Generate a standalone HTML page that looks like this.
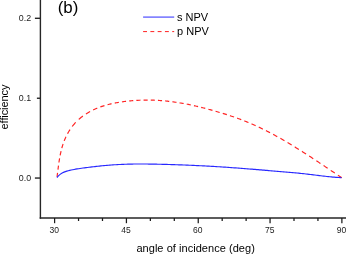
<!DOCTYPE html>
<html><head><meta charset="utf-8"><title>chart</title>
<style>
html,body{margin:0;padding:0;background:#fff;}
body{width:346px;height:255px;overflow:hidden;position:relative;font-family:"Liberation Sans",sans-serif;}
svg{position:absolute;left:0;top:0;display:block;will-change:transform;}
text{font-family:"Liberation Sans",sans-serif;fill:#000;}
.t{font-size:9.6px;fill:#1c1c1c;}
.l{font-size:11px;}
.ax line{stroke:#262626;stroke-width:1.4;}
.ax line.k{stroke:#1a1a1a;stroke-width:1.25;}
</style></head>
<body>
<svg width="346" height="255" viewBox="0 0 346 255">
<rect width="346" height="255" fill="#fff"/>
<g class="ax">
<line x1="40.4" y1="0" x2="40.4" y2="218.7"/>
<line x1="39.7" y1="218.0" x2="346" y2="218.0"/>
<line class="k" x1="54.60" y1="218.0" x2="54.60" y2="223.2"/><line class="k" x1="78.54" y1="218.0" x2="78.54" y2="221.0"/><line class="k" x1="102.48" y1="218.0" x2="102.48" y2="221.0"/><line class="k" x1="126.42" y1="218.0" x2="126.42" y2="223.2"/><line class="k" x1="150.36" y1="218.0" x2="150.36" y2="221.0"/><line class="k" x1="174.30" y1="218.0" x2="174.30" y2="221.0"/><line class="k" x1="198.24" y1="218.0" x2="198.24" y2="223.2"/><line class="k" x1="222.18" y1="218.0" x2="222.18" y2="221.0"/><line class="k" x1="246.12" y1="218.0" x2="246.12" y2="221.0"/><line class="k" x1="270.06" y1="218.0" x2="270.06" y2="223.2"/><line class="k" x1="294.00" y1="218.0" x2="294.00" y2="221.0"/><line class="k" x1="317.94" y1="218.0" x2="317.94" y2="221.0"/><line class="k" x1="341.88" y1="218.0" x2="341.88" y2="223.2"/><line x1="34.9" y1="178.05" x2="40.4" y2="178.05"/><line x1="36.9" y1="98.25" x2="40.4" y2="98.25"/><line x1="34.9" y1="18.30" x2="40.4" y2="18.30"/>
</g>
<text transform="translate(54.20,233.4) scale(0.89,1)" text-anchor="middle" class="t">30</text><text transform="translate(126.02,233.4) scale(0.89,1)" text-anchor="middle" class="t">45</text><text transform="translate(197.84,233.4) scale(0.89,1)" text-anchor="middle" class="t">60</text><text transform="translate(269.66,233.4) scale(0.89,1)" text-anchor="middle" class="t">75</text><text transform="translate(341.48,233.4) scale(0.89,1)" text-anchor="middle" class="t">90</text><text transform="translate(31.2,180.90) scale(0.925,1)" text-anchor="end" class="t">0.0</text><text transform="translate(31.2,101.00) scale(0.925,1)" text-anchor="end" class="t">0.1</text><text transform="translate(31.2,21.10) scale(0.925,1)" text-anchor="end" class="t">0.2</text>
<text transform="translate(57.7,12.7) scale(0.97,1)" style="font-size:17.4px">(b)</text>
<line x1="143.1" y1="17.1" x2="174.2" y2="17.1" stroke="#6060ff" stroke-width="1.35"/>
<line x1="143.1" y1="31.6" x2="174.2" y2="31.6" stroke="#ff2020" stroke-width="1" stroke-dasharray="3.9 3.38"/>
<text x="176.9" y="21.1" class="l">s NPV</text>
<text x="177.1" y="35.2" class="l">p NPV</text>
<path d="M57.02,176.90 L57.13,176.08 L57.24,175.26 L57.35,174.44 L57.45,173.62 L57.56,172.80 M57.95,169.70 L58.06,168.88 L58.17,168.06 L58.27,167.24 L58.38,166.42 L58.49,165.60 M58.93,162.50 L59.06,161.68 L59.18,160.86 L59.31,160.04 L59.45,159.22 L59.59,158.40 M60.16,155.30 L60.32,154.48 L60.49,153.66 L60.67,152.84 L60.85,152.02 L61.04,151.20 M61.83,148.10 L62.06,147.28 L62.30,146.46 L62.55,145.64 L62.81,144.82 L63.08,144.00 M64.20,140.90 L64.53,140.08 L64.87,139.26 L65.22,138.44 L65.59,137.62 L65.97,136.80 M67.55,133.70 L68.01,132.88 L68.49,132.06 L68.98,131.24 L69.49,130.42 L70.02,129.60 M72.21,126.50 L72.85,125.68 L73.52,124.86 L74.21,124.04 L74.93,123.22 L75.69,122.40 M78.76,119.41 L79.58,118.69 L80.40,118.00 L81.22,117.33 L82.04,116.70 L82.86,116.08 M85.96,113.95 L86.78,113.43 L87.60,112.93 L88.42,112.45 L89.24,111.98 L90.06,111.52 M93.16,109.94 L93.98,109.55 L94.80,109.18 L95.62,108.81 L96.44,108.46 L97.26,108.12 M100.36,106.93 L101.18,106.64 L102.00,106.36 L102.82,106.09 L103.64,105.83 L104.46,105.58 M107.56,104.70 L108.38,104.49 L109.20,104.29 L110.02,104.09 L110.84,103.90 L111.66,103.71 M114.76,103.07 L115.58,102.91 L116.40,102.76 L117.22,102.62 L118.04,102.47 L118.86,102.34 M121.96,101.86 L122.78,101.74 L123.60,101.63 L124.42,101.52 L125.24,101.41 L126.06,101.31 M129.16,100.97 L129.98,100.88 L130.80,100.81 L131.62,100.73 L132.44,100.66 L133.26,100.60 M136.36,100.38 L137.18,100.33 L138.00,100.29 L138.82,100.25 L139.64,100.22 L140.46,100.18 M143.56,100.10 L144.38,100.09 L145.20,100.08 L146.02,100.07 L146.84,100.07 L147.66,100.07 M150.76,100.11 L151.58,100.13 L152.40,100.15 L153.22,100.18 L154.04,100.21 L154.86,100.24 M157.96,100.40 L158.78,100.45 L159.60,100.50 L160.42,100.56 L161.24,100.62 L162.06,100.68 M165.16,100.95 L165.98,101.03 L166.80,101.12 L167.62,101.20 L168.44,101.29 L169.26,101.38 M172.36,101.77 L173.18,101.87 L174.00,101.99 L174.82,102.10 L175.64,102.22 L176.46,102.34 M179.56,102.83 L180.38,102.96 L181.20,103.10 L182.02,103.24 L182.84,103.39 L183.66,103.54 M186.76,104.12 L187.58,104.29 L188.40,104.45 L189.22,104.62 L190.04,104.79 L190.86,104.96 M193.96,105.64 L194.78,105.83 L195.60,106.01 L196.42,106.20 L197.24,106.40 L198.06,106.59 M201.16,107.35 L201.98,107.56 L202.80,107.76 L203.62,107.97 L204.44,108.19 L205.26,108.40 M208.36,109.23 L209.18,109.45 L210.00,109.68 L210.82,109.91 L211.64,110.13 L212.46,110.37 M215.56,111.25 L216.38,111.49 L217.20,111.73 L218.02,111.97 L218.84,112.22 L219.66,112.46 M222.76,113.40 L223.58,113.65 L224.40,113.90 L225.22,114.16 L226.04,114.42 L226.86,114.67 M229.96,115.68 L230.78,115.95 L231.60,116.22 L232.42,116.50 L233.24,116.77 L234.06,117.05 M237.16,118.15 L237.98,118.44 L238.80,118.74 L239.62,119.04 L240.44,119.35 L241.26,119.66 M244.36,120.87 L245.18,121.20 L246.00,121.53 L246.82,121.86 L247.64,122.20 L248.46,122.54 M251.56,123.86 L252.38,124.22 L253.20,124.58 L254.02,124.95 L254.84,125.32 L255.66,125.69 M258.76,127.12 L259.58,127.51 L260.40,127.90 L261.22,128.30 L262.04,128.69 L262.86,129.10 M265.96,130.64 L266.78,131.05 L267.60,131.47 L268.42,131.89 L269.24,132.32 L270.06,132.75 M273.16,134.39 L273.98,134.83 L274.80,135.27 L275.62,135.72 L276.44,136.17 L277.26,136.62 M280.36,138.36 L281.18,138.82 L282.00,139.29 L282.82,139.76 L283.64,140.23 L284.46,140.71 M287.56,142.53 L288.38,143.01 L289.20,143.50 L290.02,143.99 L290.84,144.49 L291.66,144.98 M294.76,146.87 L295.58,147.38 L296.40,147.89 L297.22,148.39 L298.04,148.91 L298.86,149.42 M301.96,151.37 L302.78,151.90 L303.60,152.42 L304.42,152.94 L305.24,153.47 L306.06,154.00 M309.16,156.00 L309.98,156.54 L310.80,157.07 L311.62,157.61 L312.44,158.15 L313.26,158.69 M316.36,160.73 L317.18,161.28 L318.00,161.82 L318.82,162.37 L319.64,162.91 L320.46,163.46 M323.56,165.53 L324.38,166.08 L325.20,166.63 L326.02,167.18 L326.84,167.73 L327.66,168.29 M330.76,170.37 L331.58,170.93 L332.40,171.48 L333.22,172.03 L334.04,172.58 L334.86,173.13 M337.96,175.22 L338.72,175.74 L339.49,176.25 L340.26,176.77 L341.03,177.28 L341.80,177.80" fill="none" stroke="#ff2424" stroke-width="1.18"/>
<path d="M57.00,177.60 L57.91,176.41 L58.95,175.33 L60.10,174.37 L61.34,173.52 L62.65,172.79 L64.01,172.15 L65.41,171.61 L66.83,171.14 L68.27,170.73 L69.73,170.37 L71.19,170.04 L72.66,169.73 L74.13,169.45 L75.61,169.18 L77.09,168.93 L78.57,168.70 L80.05,168.47 L81.54,168.26 L83.02,168.05 L84.51,167.85 L86.00,167.65 L87.48,167.46 L88.97,167.27 L90.46,167.09 L91.95,166.91 L93.44,166.73 L94.93,166.56 L96.42,166.39 L97.91,166.23 L99.40,166.07 L100.90,165.92 L102.39,165.77 L103.88,165.63 L105.38,165.50 L106.87,165.37 L108.36,165.24 L109.86,165.12 L111.36,165.01 L112.85,164.90 L114.35,164.80 L115.85,164.70 L117.34,164.61 L118.84,164.53 L120.34,164.46 L121.84,164.39 L123.34,164.32 L124.83,164.27 L126.33,164.22 L127.83,164.17 L129.33,164.13 L130.83,164.10 L132.33,164.07 L133.83,164.05 L135.33,164.03 L136.83,164.02 L138.33,164.01 L139.83,164.00 L141.33,164.00 L142.83,164.01 L144.33,164.01 L145.83,164.03 L147.33,164.04 L148.83,164.06 L150.33,164.08 L151.83,164.10 L153.33,164.12 L154.83,164.15 L156.33,164.18 L157.83,164.21 L159.33,164.25 L160.83,164.28 L162.33,164.32 L163.83,164.36 L165.33,164.40 L166.83,164.44 L168.33,164.48 L169.83,164.52 L171.33,164.57 L172.82,164.61 L174.32,164.66 L175.82,164.71 L177.32,164.76 L178.82,164.82 L180.32,164.87 L181.82,164.93 L183.32,164.98 L184.82,165.04 L186.32,165.10 L187.81,165.16 L189.31,165.23 L190.81,165.29 L192.31,165.36 L193.81,165.42 L195.31,165.49 L196.81,165.56 L198.30,165.64 L199.80,165.71 L201.30,165.78 L202.80,165.86 L204.30,165.94 L205.79,166.02 L207.29,166.10 L208.79,166.18 L210.29,166.26 L211.78,166.35 L213.28,166.44 L214.78,166.52 L216.28,166.61 L217.77,166.71 L219.27,166.80 L220.77,166.89 L222.27,166.99 L223.76,167.08 L225.26,167.18 L226.76,167.28 L228.25,167.39 L229.75,167.49 L231.24,167.59 L232.74,167.70 L234.24,167.81 L235.73,167.92 L237.23,168.03 L238.73,168.14 L240.22,168.25 L241.72,168.37 L243.21,168.48 L244.71,168.60 L246.20,168.71 L247.70,168.83 L249.19,168.95 L250.69,169.07 L252.18,169.19 L253.68,169.32 L255.17,169.44 L256.67,169.56 L258.16,169.69 L259.66,169.81 L261.15,169.94 L262.65,170.06 L264.14,170.19 L265.64,170.32 L267.13,170.44 L268.63,170.57 L270.12,170.70 L271.61,170.83 L273.11,170.96 L274.60,171.09 L276.10,171.22 L277.59,171.35 L279.09,171.48 L280.58,171.61 L282.08,171.74 L283.57,171.86 L285.06,171.99 L286.56,172.12 L288.05,172.25 L289.55,172.38 L291.04,172.51 L292.54,172.64 L294.03,172.77 L295.53,172.90 L297.02,173.04 L298.51,173.18 L300.01,173.33 L301.50,173.48 L302.99,173.64 L304.48,173.80 L305.97,173.97 L307.46,174.14 L308.95,174.32 L310.44,174.50 L311.93,174.68 L313.42,174.86 L314.91,175.04 L316.39,175.23 L317.88,175.41 L319.37,175.59 L320.86,175.77 L322.35,175.95 L323.84,176.12 L325.33,176.29 L326.82,176.46 L328.31,176.62 L329.81,176.77 L331.30,176.92 L332.79,177.06 L334.29,177.19 L335.78,177.31 L337.28,177.43 L338.77,177.54 L340.27,177.63 L341.50,177.70" fill="none" stroke="#2828ff" stroke-width="1.15"/>
<text x="136.4" y="252.0" class="l" textLength="118.4" lengthAdjust="spacing">angle of incidence (deg)</text>
<text transform="translate(8.4,129.4) rotate(-90)" class="l" textLength="44.8" lengthAdjust="spacing">efficiency</text>
</svg>
</body></html>
